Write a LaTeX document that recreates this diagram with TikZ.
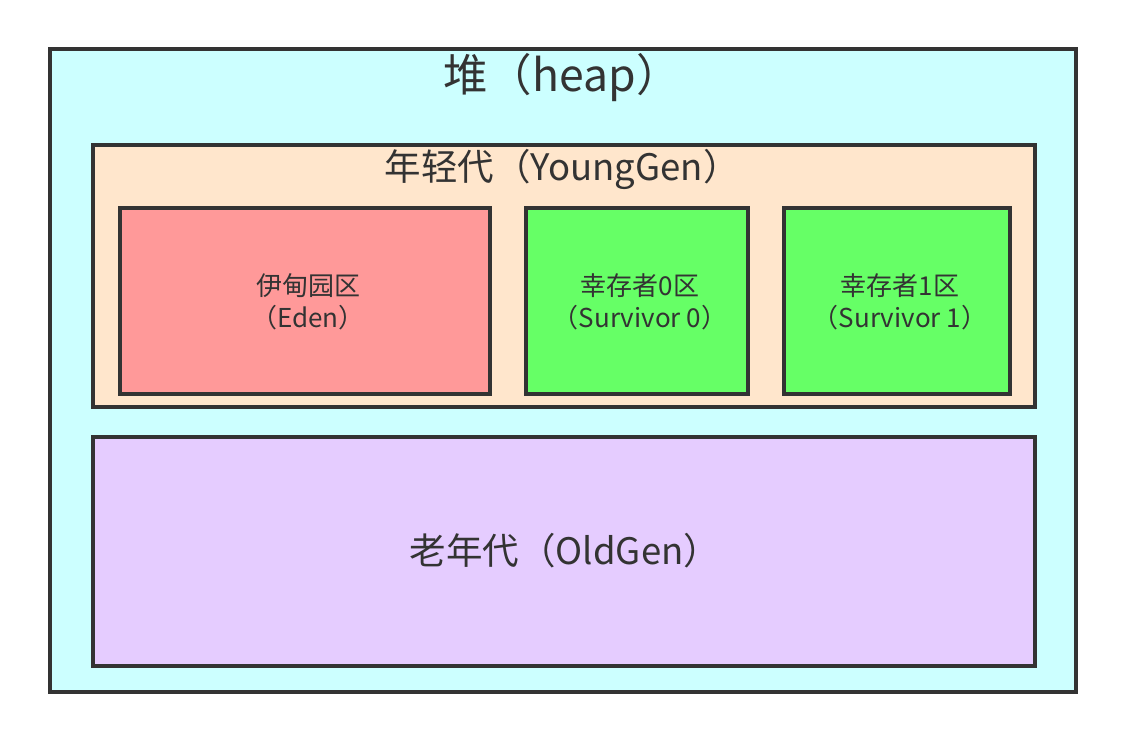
\documentclass[tikz,border=0pt]{standalone}
\usepackage{fontspec}
\setmainfont{Noto Sans CJK SC}
\usepackage{tikz}
\definecolor{edge}{HTML}{333333}
\definecolor{heapfill}{HTML}{CCFFFF}
\definecolor{youngfill}{HTML}{FFE6CC}
\definecolor{edenfill}{HTML}{FF9999}
\definecolor{survfill}{HTML}{66FF66}
\definecolor{oldfill}{HTML}{E5CCFF}
\tikzset{
  area/.style={draw=edge, line width=3.5pt, anchor=north west, inner sep=0pt, outer sep=0pt},
  title/.style 2 args={text=edge, font=\fontsize{#1}{#2}\selectfont, align=center},
}
\begin{document}
\begin{tikzpicture}[x=1pt,y=-1pt]
	\useasboundingbox (0,0) rectangle (1126,742);
	\node[area, fill=heapfill, minimum width=1026pt, minimum height=643pt] (heap) at (50,49) {};
	\node[area, fill=youngfill, minimum width=942pt, minimum height=262pt] (young) at (93,145) {};
	\node[area, fill=edenfill, minimum width=370pt, minimum height=186pt] (eden) at (120,208) {};
	\node[area, fill=survfill, minimum width=222pt, minimum height=186pt] (surv0) at (526,208) {};
	\node[area, fill=survfill, minimum width=226pt, minimum height=186pt] (surv1) at (784,208) {};
	\node[area, fill=oldfill, minimum width=942pt, minimum height=229pt] (old) at (93,437) {};
	% labels
	\node[title={44.5}{52}] (heaplabel) at (562,78) {堆（heap）};
	\node[title={36.5}{44}] (younglabel) at (562,169) {年轻代（YoungGen）};
	\node[title={26}{32}] (edenlabel) at (308,302) {伊甸园区\\（Eden）};
	\node[title={26}{32}] (surv0label) at (640,302) {幸存者0区\\（Survivor 0）};
	\node[title={26}{32}] (surv1label) at (900,302) {幸存者1区\\（Survivor 1）};
	\node[title={36.5}{44}] (oldlabel) at (565,551) {老年代（OldGen）};
\end{tikzpicture}
\end{document}
